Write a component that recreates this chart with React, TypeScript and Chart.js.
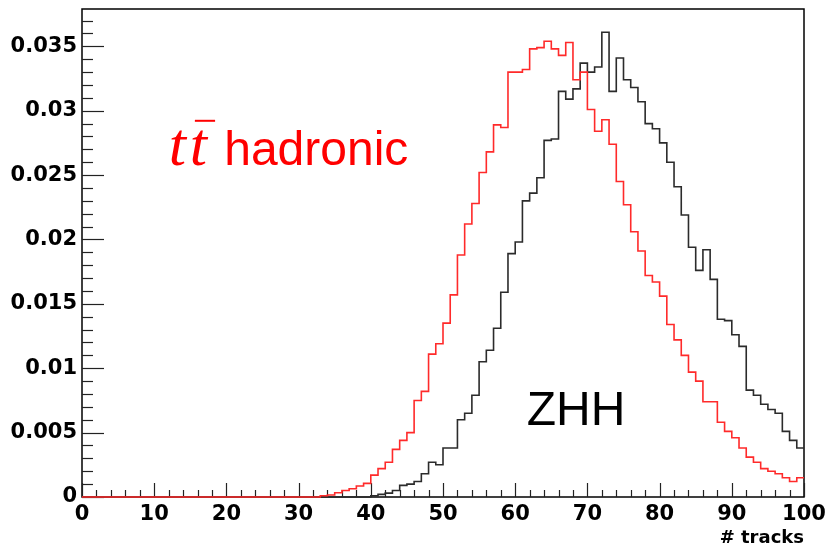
import { useEffect, useRef } from "react";
import { Chart, registerables } from "chart.js";

Chart.register(...registerables);

// Bin contents (bins of width 1 from 0 to 100), normalised histograms
const ttbarHadronic = [
  0, 0, 0, 0, 0, 0, 0, 0, 0, 0,
  0, 0, 0, 0, 0, 0, 0, 0, 0, 0,
  0, 0, 0, 0, 0, 0, 0, 0, 0, 0,
  0, 0, 0, 0.0001, 0.00015, 0.00033, 0.0005, 0.00064, 0.00085, 0.00106,
  0.0017, 0.0022, 0.0027, 0.0037, 0.0044, 0.005, 0.0075, 0.0082, 0.0111, 0.0119,
  0.0135, 0.0157, 0.0188, 0.0212, 0.0228, 0.0252, 0.0268, 0.0289, 0.0287, 0.033,
  0.033, 0.0332, 0.0348, 0.0349, 0.0354, 0.0348, 0.0343, 0.0353, 0.0324, 0.033,
  0.0301, 0.0284, 0.0293, 0.0274, 0.0245, 0.0227, 0.0206, 0.0191, 0.0172, 0.0167,
  0.0156, 0.0134, 0.0122, 0.011, 0.0097, 0.009, 0.0074, 0.0074, 0.0058, 0.0051,
  0.0046, 0.0038, 0.0031, 0.0027, 0.0022, 0.002, 0.0018, 0.0015, 0.0012, 0.0015,
];

const zhh = [
  0, 0, 0, 0, 0, 0, 0, 0, 0, 0,
  0, 0, 0, 0, 0, 0, 0, 0, 0, 0,
  0, 0, 0, 0, 0, 0, 0, 0, 0, 0,
  0, 0, 0, 0, 0, 0, 0, 0, 0, 0,
  0.0001, 0.0002, 0.0003, 0.0005, 0.0009, 0.001, 0.0012, 0.0018, 0.0027, 0.0025,
  0.0038, 0.0038, 0.006, 0.0065, 0.0079, 0.0105, 0.0114, 0.0131, 0.0159, 0.0189,
  0.0198, 0.023, 0.0236, 0.0248, 0.0277, 0.0278, 0.0315, 0.0309, 0.0317, 0.0337,
  0.033, 0.0334, 0.0361, 0.0315, 0.0341, 0.0324, 0.0318, 0.0307, 0.029, 0.0286,
  0.0275, 0.026, 0.0241, 0.0219, 0.0194, 0.0176, 0.0192, 0.0169, 0.0138, 0.0137,
  0.0126, 0.0117, 0.0083, 0.0079, 0.0072, 0.0068, 0.0065, 0.0051, 0.0044, 0.0038,
];

const xMin = 0;
const xMax = 100;
const yMax = 0.0379;
const xMajorStep = 10;
const xMinorStep = 2;
const yMajorStep = 0.005;
const yMinorStep = 0.001;
const xTitle = "# tracks";
const ttbarLabel = "hadronic";
const zhhLabel = "ZHH";

function histPoints(values: number[]) {
  const pts = values.map((v, i) => ({ x: xMin + i, y: v }));
  pts.push({ x: xMin + values.length, y: values[values.length - 1] });
  return pts;
}

const rootFrame = {
  id: "rootFrame",
  beforeDatasetsDraw(chart: any) {
    const { ctx, chartArea: a, scales } = chart;
    const x = scales.x;
    const y = scales.y;
    ctx.save();
    ctx.strokeStyle = "#000";
    ctx.lineWidth = 1.5;
    ctx.strokeRect(a.left, a.top, a.right - a.left, a.bottom - a.top);
    ctx.lineWidth = 1.2;
    ctx.strokeStyle = "#222";
    const nx = Math.round((xMax - xMin) / xMinorStep);
    for (let k = 0; k <= nx; k++) {
      const v = xMin + k * xMinorStep;
      const px = Math.round(x.getPixelForValue(v)) + 0.5;
      const major = Math.abs(v / xMajorStep - Math.round(v / xMajorStep)) < 1e-6;
      const len = major ? 14 : 7;
      ctx.beginPath();
      ctx.moveTo(px, a.bottom);
      ctx.lineTo(px, a.bottom - len);
      ctx.stroke();
    }
    const ny = Math.floor(yMax / yMinorStep + 1e-6);
    for (let k = 0; k <= ny; k++) {
      const v = k * yMinorStep;
      const py = Math.round(y.getPixelForValue(v)) + 0.5;
      const major = k % Math.round(yMajorStep / yMinorStep) === 0;
      const len = major ? 22 : 11;
      ctx.beginPath();
      ctx.moveTo(a.left, py);
      ctx.lineTo(a.left + len, py);
      ctx.stroke();
    }
    ctx.restore();
  },
  afterDatasetsDraw(chart: any) {
    const { ctx, scales } = chart;
    const x = scales.x;
    const y = scales.y;
    ctx.save();
    // t tbar
    ctx.fillStyle = "#ff0000";
    ctx.strokeStyle = "#ff0000";
    ctx.textBaseline = "alphabetic";
    ctx.textAlign = "left";
    ctx.font = 'italic 62px "Liberation Serif"';
    const tx = x.getPixelForValue(12.0);
    const ty = y.getPixelForValue(0.0258);
    ctx.fillText("t", tx, ty);
    const w1 = ctx.measureText("t").width;
    ctx.fillText("t", tx + w1 + 4, ty);
    const w2 = ctx.measureText("t").width;
    ctx.lineWidth = 2;
    ctx.beginPath();
    ctx.moveTo(tx + w1 + 9, ty - 44);
    ctx.lineTo(tx + w1 + w2 + 12, ty - 44);
    ctx.stroke();
    ctx.font = '48px "Liberation Sans"';
    ctx.fillText(ttbarLabel, x.getPixelForValue(19.7), y.getPixelForValue(0.0258));
    ctx.fillStyle = "#000";
    ctx.font = '48px "Liberation Sans"';
    ctx.fillText(zhhLabel, x.getPixelForValue(61.6), y.getPixelForValue(0.0056));
    ctx.restore();
  },
};

export default function App() {
  const canvasRef = useRef<HTMLCanvasElement | null>(null);

  useEffect(() => {
    const canvas = canvasRef.current;
    if (!canvas) return;
    const tickFont = { family: '"DejaVu Sans"', size: 21, weight: "bold" as const };
    const chart = new Chart(canvas, {
      type: "line",
      data: {
        datasets: [
          {
            label: "tt hadronic",
            data: histPoints(ttbarHadronic),
            borderColor: "#ff2a2a",
            borderWidth: 1.6,
            pointRadius: 0,
            fill: false,
            stepped: "before",
            tension: 0,
            clip: 4,
          },
          {
            label: "ZHH",
            data: histPoints(zhh),
            borderColor: "#2b2b2b",
            borderWidth: 1.6,
            pointRadius: 0,
            fill: false,
            stepped: "before",
            tension: 0,
            clip: 4,
          },
        ],
      },
      options: {
        animation: false,
        responsive: true,
        maintainAspectRatio: false,
        parsing: false as any,
        normalized: true,
        layout: { padding: { left: 0, right: 29, top: 9, bottom: 0 } },
        plugins: {
          legend: { display: false },
          tooltip: { enabled: false },
        },
        scales: {
          x: {
            type: "linear",
            min: xMin,
            max: xMax,
            grid: { display: false, drawTicks: false },
            border: { display: false },
            ticks: {
              stepSize: xMajorStep,
              includeBounds: false,
              color: "#000",
              font: tickFont,
              padding: 5,
              maxRotation: 0,
              autoSkip: false,
              callback: (v: any) => String(v),
            },
            title: {
              display: true,
              text: xTitle,
              align: "end",
              color: "#000",
              font: { family: '"DejaVu Sans"', size: 18, weight: "bold" },
              padding: { top: 0, bottom: 2 },
            },
            afterFit: (s: any) => {
              s.height = 54;
              s.paddingLeft = 0;
              s.paddingRight = 0;
            },
          },
          y: {
            type: "linear",
            min: 0,
            max: yMax,
            grid: { display: false, drawTicks: false },
            border: { display: false },
            ticks: {
              stepSize: yMajorStep,
              includeBounds: false,
              color: "#000",
              font: tickFont,
              padding: 5,
              autoSkip: false,
              callback: (v: any) => String(+Number(v).toFixed(3)),
            },
            afterFit: (s: any) => {
              s.width = 82;
              s.paddingTop = 0;
              s.paddingBottom = 0;
            },
          },
        },
      },
      plugins: [rootFrame],
    });
    return () => chart.destroy();
  }, []);

  return (
    <div style={{ position: "fixed", left: 0, top: 0, width: 833, height: 551, background: "#fff" }}>
      <canvas ref={canvasRef} />
    </div>
  );
}
